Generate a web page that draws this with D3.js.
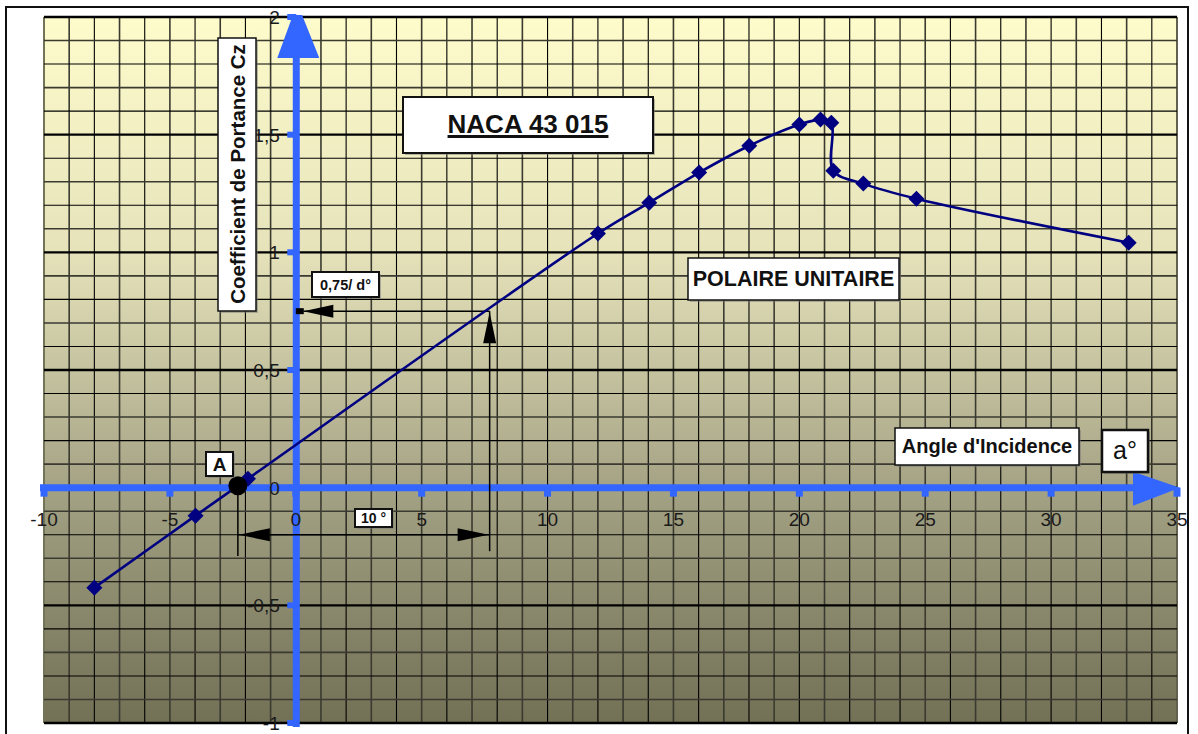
<!DOCTYPE html>
<html><head><meta charset="utf-8">
<script src="https://cdn.jsdelivr.net/npm/d3@7"></script>
<style>html,body{margin:0;padding:0;background:#fff;}svg{display:block;font-family:"Liberation Sans",Arial,sans-serif;}</style>
</head><body>
<svg id="c" width="1198" height="734"></svg>
<script>
// ---- data ----
const alpha = [-8.0, -3.98, -1.9, 12.0, 14.04, 16.02, 18.01, 20.0, 20.84, 21.27, 21.35, 22.54, 24.65, 33.08];
const cz    = [-0.425, -0.119, 0.038, 1.08, 1.211, 1.339, 1.453, 1.543, 1.564, 1.551, 1.347, 1.292, 1.228, 1.041];
const xTicks = [-10, -5, 0, 5, 10, 15, 20, 25, 30, 35];
const xTickLabels = ["-10", "-5", "0", "5", "10", "15", "20", "25", "30", "35"];
const yTicks = [-1, -0.5, 0, 0.5, 1, 1.5, 2];
const yTickLabels = ["-1", "-0,5", "0", "0,5", "1", "1,5", "2"];
const pointA = [-2.3, 0];
const construction = { x0: -2.3, x1: 7.7, cz: 0.75, dimY: -0.2, lowY: -0.27 };

// ---- setup ----
const svg = d3.select("#c");
const L = 44, R = 1177, T = 17, B = 723;
const x = d3.scaleLinear().domain([-10, 35]).range([L, R]);
const y = d3.scaleLinear().domain([-1, 2]).range([B, T]);
const blue = "#3366FF";

// outer frame
svg.append("rect").attr("x", 6).attr("y", 7).attr("width", 1182).attr("height", 760)
  .attr("fill", "#fff").attr("stroke", "#111").attr("stroke-width", 2);

// gradient
const defs = svg.append("defs");
const g = defs.append("linearGradient").attr("id", "bg").attr("x1", 0).attr("y1", 0).attr("x2", 0).attr("y2", 1);
[[0, "#FEFCCB"], [0.33, "#E6E3BB"], [0.67, "#A4A284"], [1, "#727055"]].forEach(s =>
  g.append("stop").attr("offset", s[0]).attr("stop-color", s[1]));
defs.append("clipPath").attr("id", "plotclip").append("rect")
  .attr("x", L).attr("y", T - 2).attr("width", R - L + 4).attr("height", B - T + 6);

svg.append("rect").attr("x", L).attr("y", T).attr("width", R - L).attr("height", B - T)
  .attr("fill", "url(#bg)").attr("stroke", "#FFFFC4").attr("stroke-width", 2);

// grid
const grid = svg.append("g");
d3.range(-10, 36, 1).forEach((v, i) => {
  grid.append("line").attr("x1", x(v)).attr("x2", x(v)).attr("y1", T).attr("y2", B)
    .attr("stroke", i % 2 ? "#3a3a30" : "#000").attr("stroke-width", i % 2 ? 1.6 : 1.1);
});
d3.range(-10, 21, 1).forEach((k, i) => {
  const v = k / 10;
  if (k % 5 === 0) return;
  grid.append("line").attr("x1", L).attr("x2", R).attr("y1", y(v)).attr("y2", y(v))
    .attr("stroke", i % 2 ? "#3a3a30" : "#000").attr("stroke-width", i % 2 ? 1.6 : 1.1);
});
d3.range(-2, 5, 1).forEach(k => {
  const v = k / 2;
  grid.append("line").attr("x1", L).attr("x2", R).attr("y1", y(v)).attr("y2", y(v))
    .attr("stroke", "#000").attr("stroke-width", 2.4);
});

// ---- blue axes ----
const ax = svg.append("g");
const y0 = y(0), x0 = x(0) + 0.5;
ax.append("line").attr("x1", L - 4).attr("x2", R - 40).attr("y1", y0).attr("y2", y0)
  .attr("stroke", blue).attr("stroke-width", 7);
ax.append("path").attr("fill", blue)
  .attr("d", `M${R - 44},${y0 - 16}L${R + 3},${y0}L${R - 44},${y0 + 18}Z`);
ax.append("line").attr("x1", x0).attr("x2", x0).attr("y1", B + 4).attr("y2", T + 40)
  .attr("stroke", blue).attr("stroke-width", 7);
ax.append("path").attr("fill", blue).attr("clip-path", "url(#plotclip)")
  .attr("d", `M${x0 - 19},${T + 41}L${x0 + 1},${T - 14}L${x0 + 23},${T + 41}Z`);
xTicks.forEach(v => ax.append("rect").attr("x", x(v) - 3.5).attr("y", y0).attr("width", 7).attr("height", 9).attr("fill", blue));
yTicks.forEach(v => ax.append("rect").attr("x", x0 - 9).attr("y", y(v) - 3).attr("width", 9).attr("height", 6).attr("fill", blue));

// tick labels
xTicks.forEach((v, i) => svg.append("text").attr("x", x(v)).attr("y", y0 + 38)
  .attr("text-anchor", "middle").attr("font-size", 19).attr("fill", "#1a1a1a").text(xTickLabels[i]));
yTicks.forEach((v, i) => svg.append("text").attr("x", x(0) - 16).attr("y", y(v) + 7)
  .attr("text-anchor", "end").attr("font-size", 19).attr("fill", "#1a1a1a").text(yTickLabels[i]));

// ---- construction lines ----
const k = svg.append("g").attr("stroke", "#000").attr("fill", "#000");
function arrowHead(tipX, tipY, dir, len, half) {
  let d;
  if (dir === "l") d = `M${tipX},${tipY}L${tipX + len},${tipY - half}L${tipX + len},${tipY + half}Z`;
  if (dir === "r") d = `M${tipX},${tipY}L${tipX - len},${tipY - half}L${tipX - len},${tipY + half}Z`;
  if (dir === "u") d = `M${tipX},${tipY}L${tipX - half},${tipY + len}L${tipX + half},${tipY + len}Z`;
  k.append("path").attr("d", d).attr("stroke", "none");
}
const cx0 = x(construction.x0), cx1 = x(construction.x1);
const cyV = y(construction.cz), cyD = y(construction.dimY), cyLow = y(construction.lowY);
k.append("line").attr("x1", cx0).attr("x2", cx0).attr("y1", y0).attr("y2", y(-0.29)).attr("stroke-width", 1.5);
k.append("line").attr("x1", cx1).attr("x2", cx1).attr("y1", cyV).attr("y2", cyLow).attr("stroke-width", 1.5);
k.append("line").attr("x1", cx0).attr("x2", cx1).attr("y1", cyD).attr("y2", cyD).attr("stroke-width", 1.5);
arrowHead(cx0 + 1, cyD, "l", 31, 6.5);
arrowHead(cx1 - 1, cyD, "r", 31, 6.5);
arrowHead(cx1, cyV + 1, "u", 31, 6.5);
k.append("line").attr("x1", x(0.3)).attr("x2", cx1).attr("y1", cyV).attr("y2", cyV).attr("stroke-width", 1.5);
arrowHead(x(0.3), cyV, "l", 30, 6.5);
k.append("rect").attr("x", x(0)).attr("y", cyV - 3).attr("width", 8).attr("height", 6).attr("stroke", "none");

// ---- data line ----
const line = d3.line().x((d, i) => x(alpha[i])).y((d, i) => y(cz[i])).curve(d3.curveCatmullRom.alpha(0.5));
svg.append("path").attr("d", line(alpha)).attr("fill", "none").attr("stroke", "#000080").attr("stroke-width", 2.6);
svg.append("g").selectAll("path.m").data(alpha).join("path")
  .attr("transform", (d, i) => `translate(${x(d)},${y(cz[i])})`)
  .attr("d", "M0,-8L8,0L0,8L-8,0Z").attr("fill", "#000080");

// point A
svg.append("circle").attr("cx", x(pointA[0])).attr("cy", y(pointA[1]) - 2).attr("r", 9.5).attr("fill", "#000");

// ---- text boxes ----
function box(x1, y1, w, h, sw) {
  svg.append("rect").attr("x", x1 + 2).attr("y", y1 + 2).attr("width", w).attr("height", h).attr("fill", "#777").attr("opacity", 0.5);
  svg.append("rect").attr("x", x1).attr("y", y1).attr("width", w).attr("height", h)
    .attr("fill", "#fff").attr("stroke", "#111").attr("stroke-width", sw || 1.5);
}
function txt(tx, ty, s, size, bold, anchor) {
  return svg.append("text").attr("x", tx).attr("y", ty).attr("font-size", size)
    .attr("font-weight", bold ? "bold" : "normal").attr("text-anchor", anchor || "middle").attr("fill", "#111").text(s);
}
box(403, 97, 250, 56, 2);
const naca = txt(528, 133, "NACA 43 015", 26, true);
const nw = naca.node().getComputedTextLength();
svg.append("rect").attr("x", 528 - nw / 2).attr("y", 135).attr("width", nw).attr("height", 3).attr("fill", "#111");
box(688, 258, 211, 42, 1.5);
txt(793.5, 286, "POLAIRE UNITAIRE", 21.5, true);
box(895, 428, 184, 37, 1.5);
txt(987, 453, "Angle d'Incidence", 20, true);
box(1102, 430, 46, 42, 2.5);
txt(1125, 459, "a°", 25, false);
box(218, 38, 38, 273, 1.5);
svg.append("text").attr("transform", "translate(245,174) rotate(-90)").attr("text-anchor", "middle")
  .attr("font-size", 20.5).attr("font-weight", "bold").attr("fill", "#111").text("Coefficient de Portance Cz");
box(312, 272, 67, 25, 2);
txt(345.5, 290, "0,75/ d°", 14.5, true);
box(355, 509, 37, 18, 2);
txt(373.5, 523, "10 °", 14, true);
box(206, 452, 27, 24, 2);
txt(219.5, 471, "A", 19, true);
</script>
</body></html>
